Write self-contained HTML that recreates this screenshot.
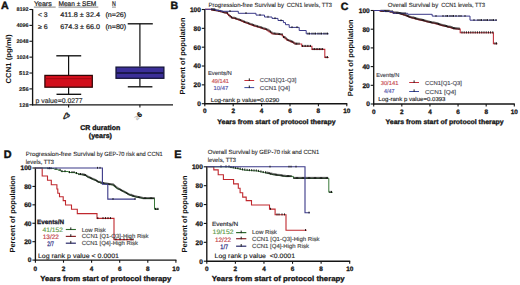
<!DOCTYPE html><html><head><meta charset="utf-8"><title>Figure</title><style>html,body{margin:0;padding:0;background:#fff;width:520px;height:285px;overflow:hidden}svg{display:block;font-family:"Liberation Sans",sans-serif;text-rendering:geometricPrecision}</style></head><body><svg width="520" height="285" viewBox="0 0 520 285" font-family="Liberation Sans, sans-serif" shape-rendering="geometricPrecision">
<rect width="520" height="285" fill="#fff"/>
<text x="1.00" y="9.20" font-size="10.6" font-weight="bold" fill="#111" stroke="#111" stroke-width="0.45">A</text>
<line x1="32.60" y1="9.10" x2="32.60" y2="105.40" stroke="#141414" stroke-width="1.35" />
<line x1="32.00" y1="104.80" x2="173.00" y2="104.80" stroke="#141414" stroke-width="1.35" />
<line x1="29.40" y1="9.50" x2="32.60" y2="9.50" stroke="#141414" stroke-width="1.1" />
<text x="28.70" y="11.25" font-size="5.3" font-weight="bold" fill="#1a1a1a" stroke="#1a1a1a" stroke-width="0.1" text-anchor="end" textLength="12.30" lengthAdjust="spacingAndGlyphs">8192</text>
<line x1="29.40" y1="25.38" x2="32.60" y2="25.38" stroke="#141414" stroke-width="1.1" />
<text x="28.70" y="27.13" font-size="5.3" font-weight="bold" fill="#1a1a1a" stroke="#1a1a1a" stroke-width="0.1" text-anchor="end" textLength="12.30" lengthAdjust="spacingAndGlyphs">4096</text>
<line x1="29.40" y1="41.26" x2="32.60" y2="41.26" stroke="#141414" stroke-width="1.1" />
<text x="28.70" y="43.01" font-size="5.3" font-weight="bold" fill="#1a1a1a" stroke="#1a1a1a" stroke-width="0.1" text-anchor="end" textLength="12.30" lengthAdjust="spacingAndGlyphs">2048</text>
<line x1="29.40" y1="57.14" x2="32.60" y2="57.14" stroke="#141414" stroke-width="1.1" />
<text x="28.70" y="58.89" font-size="5.3" font-weight="bold" fill="#1a1a1a" stroke="#1a1a1a" stroke-width="0.1" text-anchor="end" textLength="12.30" lengthAdjust="spacingAndGlyphs">1024</text>
<line x1="29.40" y1="73.02" x2="32.60" y2="73.02" stroke="#141414" stroke-width="1.1" />
<text x="28.70" y="74.77" font-size="5.3" font-weight="bold" fill="#1a1a1a" stroke="#1a1a1a" stroke-width="0.1" text-anchor="end" textLength="9.60" lengthAdjust="spacingAndGlyphs">512</text>
<line x1="29.40" y1="88.90" x2="32.60" y2="88.90" stroke="#141414" stroke-width="1.1" />
<text x="28.70" y="90.65" font-size="5.3" font-weight="bold" fill="#1a1a1a" stroke="#1a1a1a" stroke-width="0.1" text-anchor="end" textLength="9.60" lengthAdjust="spacingAndGlyphs">256</text>
<line x1="29.40" y1="104.78" x2="32.60" y2="104.78" stroke="#141414" stroke-width="1.1" />
<text x="28.70" y="106.53" font-size="5.3" font-weight="bold" fill="#1a1a1a" stroke="#1a1a1a" stroke-width="0.1" text-anchor="end" textLength="9.60" lengthAdjust="spacingAndGlyphs">128</text>
<line x1="68.60" y1="104.80" x2="68.60" y2="107.60" stroke="#141414" stroke-width="1.1" />
<line x1="139.90" y1="104.80" x2="139.90" y2="107.60" stroke="#141414" stroke-width="1.1" />
<line x1="68.60" y1="55.80" x2="68.60" y2="74.90" stroke="#111" stroke-width="1.2" />
<line x1="68.60" y1="87.60" x2="68.60" y2="94.30" stroke="#111" stroke-width="1.2" />
<line x1="56.30" y1="55.80" x2="81.20" y2="55.80" stroke="#111" stroke-width="1.35" />
<line x1="56.50" y1="94.30" x2="81.20" y2="94.30" stroke="#111" stroke-width="1.35" />
<rect x="44.9" y="75.4" width="47.4" height="11.8" fill="#d20f1c" stroke="#300505" stroke-width="1.25"/>
<line x1="45.40" y1="78.70" x2="91.80" y2="78.70" stroke="#a00812" stroke-width="1.0" />
<line x1="139.90" y1="23.80" x2="139.90" y2="66.60" stroke="#111" stroke-width="1.2" />
<line x1="139.90" y1="78.70" x2="139.90" y2="86.80" stroke="#111" stroke-width="1.2" />
<line x1="127.70" y1="23.80" x2="152.80" y2="23.80" stroke="#111" stroke-width="1.35" />
<line x1="127.80" y1="86.80" x2="152.40" y2="86.80" stroke="#111" stroke-width="1.35" />
<rect x="116.0" y="67.1" width="47.9" height="11.2" fill="#3b2f98" stroke="#121236" stroke-width="1.25"/>
<line x1="116.50" y1="73.00" x2="163.40" y2="73.00" stroke="#121236" stroke-width="1.4" />
<text x="33.90" y="6.30" font-size="6.8" fill="#262626" stroke="#262626" stroke-width="0.22" textLength="17.80" lengthAdjust="spacingAndGlyphs">Years</text>
<line x1="33.90" y1="7.10" x2="55.70" y2="7.10" stroke="#222" stroke-width="0.55" />
<text x="58.50" y="6.30" font-size="6.8" fill="#262626" stroke="#262626" stroke-width="0.22" textLength="37.80" lengthAdjust="spacingAndGlyphs">Mean ± SEM</text>
<line x1="58.50" y1="7.10" x2="98.30" y2="7.10" stroke="#222" stroke-width="0.55" />
<text x="112.00" y="6.30" font-size="6.8" fill="#262626" stroke="#262626" stroke-width="0.22" textLength="3.80" lengthAdjust="spacingAndGlyphs">N</text>
<line x1="112.00" y1="7.10" x2="115.90" y2="7.10" stroke="#222" stroke-width="0.55" />
<text x="37.90" y="16.80" font-size="6.8" fill="#262626" stroke="#262626" stroke-width="0.22" textLength="9.70" lengthAdjust="spacingAndGlyphs">&lt; 3</text>
<text x="60.20" y="16.80" font-size="6.8" fill="#262626" stroke="#262626" stroke-width="0.22" textLength="39.80" lengthAdjust="spacingAndGlyphs">411.8 ± 32.4</text>
<text x="105.40" y="16.80" font-size="6.8" fill="#262626" stroke="#262626" stroke-width="0.22" textLength="20.80" lengthAdjust="spacingAndGlyphs">(n=26)</text>
<text x="37.90" y="28.60" font-size="6.8" fill="#262626" stroke="#262626" stroke-width="0.22" textLength="9.70" lengthAdjust="spacingAndGlyphs">≥ 6</text>
<text x="60.20" y="28.60" font-size="6.8" fill="#262626" stroke="#262626" stroke-width="0.22" textLength="39.80" lengthAdjust="spacingAndGlyphs">674.3 ± 66.0</text>
<text x="105.40" y="28.60" font-size="6.8" fill="#262626" stroke="#262626" stroke-width="0.22" textLength="20.80" lengthAdjust="spacingAndGlyphs">(n=80)</text>
<text x="35.50" y="102.60" font-size="6.8" fill="#262626" stroke="#262626" stroke-width="0.14" textLength="47.20" lengthAdjust="spacingAndGlyphs">p value=0.0277</text>
<text x="0" y="0" font-size="7.3" font-weight="bold" fill="#111" text-anchor="middle" textLength="49.0" lengthAdjust="spacingAndGlyphs" transform="translate(11.0,59.0) rotate(-90)">CCN1 (pg/ml)</text>
<text x="0" y="0" font-size="7.0" font-weight="bold" fill="#111" stroke="#111" stroke-width="0.3" text-anchor="end" transform="translate(70.6,115.2) rotate(-45)">&lt;3</text>
<text x="0" y="0" font-size="7.0" font-weight="bold" fill="#111" text-anchor="end" transform="translate(142.6,115.0) rotate(-45)"><tspan fill="#b8b8b8">≥</tspan><tspan stroke="#111" stroke-width="0.3">6</tspan></text>
<text x="100.25" y="129.70" font-size="6.95" font-weight="bold" fill="#111" stroke="#111" stroke-width="0.3" text-anchor="middle" textLength="39.90" lengthAdjust="spacingAndGlyphs">CR duration</text>
<text x="100.40" y="137.70" font-size="6.95" font-weight="bold" fill="#111" stroke="#111" stroke-width="0.3" text-anchor="middle" textLength="23.10" lengthAdjust="spacingAndGlyphs">(years)</text>
<text x="170.40" y="8.80" font-size="10.6" font-weight="bold" fill="#111" stroke="#111" stroke-width="0.45">B</text>
<text x="208.50" y="6.60" font-size="6.0" fill="#2a2a2a" stroke="#2a2a2a" stroke-width="0.12" textLength="75.40" lengthAdjust="spacingAndGlyphs">Progression-free Survival by</text>
<text x="286.70" y="6.60" font-size="6.0" fill="#2a2a2a" stroke="#2a2a2a" stroke-width="0.12" textLength="45.40" lengthAdjust="spacingAndGlyphs">CCN1 levels, TT3</text>
<line x1="204.80" y1="9.00" x2="204.80" y2="104.30" stroke="#141414" stroke-width="1.35" />
<line x1="204.20" y1="103.70" x2="347.30" y2="103.70" stroke="#141414" stroke-width="1.35" />
<line x1="201.80" y1="103.70" x2="204.80" y2="103.70" stroke="#141414" stroke-width="1.1" />
<text x="200.90" y="106.05" font-size="6.6" font-weight="bold" fill="#1a1a1a" stroke="#1a1a1a" stroke-width="0.3" text-anchor="end">0</text>
<line x1="201.80" y1="84.86" x2="204.80" y2="84.86" stroke="#141414" stroke-width="1.1" />
<text x="200.90" y="87.21" font-size="6.6" font-weight="bold" fill="#1a1a1a" stroke="#1a1a1a" stroke-width="0.3" text-anchor="end">20</text>
<line x1="201.80" y1="66.02" x2="204.80" y2="66.02" stroke="#141414" stroke-width="1.1" />
<text x="200.90" y="68.37" font-size="6.6" font-weight="bold" fill="#1a1a1a" stroke="#1a1a1a" stroke-width="0.3" text-anchor="end">40</text>
<line x1="201.80" y1="47.18" x2="204.80" y2="47.18" stroke="#141414" stroke-width="1.1" />
<text x="200.90" y="49.53" font-size="6.6" font-weight="bold" fill="#1a1a1a" stroke="#1a1a1a" stroke-width="0.3" text-anchor="end">60</text>
<line x1="201.80" y1="28.34" x2="204.80" y2="28.34" stroke="#141414" stroke-width="1.1" />
<text x="200.90" y="30.69" font-size="6.6" font-weight="bold" fill="#1a1a1a" stroke="#1a1a1a" stroke-width="0.3" text-anchor="end">80</text>
<line x1="201.80" y1="9.50" x2="204.80" y2="9.50" stroke="#141414" stroke-width="1.1" />
<text x="200.90" y="11.85" font-size="6.6" font-weight="bold" fill="#1a1a1a" stroke="#1a1a1a" stroke-width="0.3" text-anchor="end">100</text>
<line x1="204.80" y1="103.70" x2="204.80" y2="106.30" stroke="#141414" stroke-width="1.1" />
<text x="204.80" y="113.20" font-size="6.4" font-weight="bold" fill="#1a1a1a" stroke="#1a1a1a" stroke-width="0.3" text-anchor="middle">0</text>
<line x1="233.20" y1="103.70" x2="233.20" y2="106.30" stroke="#141414" stroke-width="1.1" />
<text x="233.20" y="113.20" font-size="6.4" font-weight="bold" fill="#1a1a1a" stroke="#1a1a1a" stroke-width="0.3" text-anchor="middle">2</text>
<line x1="261.60" y1="103.70" x2="261.60" y2="106.30" stroke="#141414" stroke-width="1.1" />
<text x="261.60" y="113.20" font-size="6.4" font-weight="bold" fill="#1a1a1a" stroke="#1a1a1a" stroke-width="0.3" text-anchor="middle">4</text>
<line x1="290.00" y1="103.70" x2="290.00" y2="106.30" stroke="#141414" stroke-width="1.1" />
<text x="290.00" y="113.20" font-size="6.4" font-weight="bold" fill="#1a1a1a" stroke="#1a1a1a" stroke-width="0.3" text-anchor="middle">6</text>
<line x1="318.40" y1="103.70" x2="318.40" y2="106.30" stroke="#141414" stroke-width="1.1" />
<text x="318.40" y="113.20" font-size="6.4" font-weight="bold" fill="#1a1a1a" stroke="#1a1a1a" stroke-width="0.3" text-anchor="middle">8</text>
<line x1="346.80" y1="103.70" x2="346.80" y2="106.30" stroke="#141414" stroke-width="1.1" />
<text x="346.80" y="113.20" font-size="6.4" font-weight="bold" fill="#1a1a1a" stroke="#1a1a1a" stroke-width="0.3" text-anchor="middle">10</text>
<text x="0" y="0" font-size="7.4" font-weight="bold" fill="#111" text-anchor="middle" textLength="77" lengthAdjust="spacingAndGlyphs" transform="translate(184.50,56.00) rotate(-90)">Percent of population</text>
<text x="217.30" y="123.60" font-size="6.7" font-weight="bold" fill="#111" stroke="#111" stroke-width="0.3" textLength="118.30" lengthAdjust="spacingAndGlyphs">Years from start of protocol therapy</text>
<polyline points="205.00,9.30 206.30,9.30 206.30,9.30 207.60,9.30 207.60,9.30 208.90,9.30 208.90,9.30 210.20,9.30 210.20,9.30 211.50,9.30 211.50,9.30 211.50,10.00 212.72,10.00 212.72,10.18 213.95,10.18 213.95,10.35 215.18,10.35 215.18,10.52 216.40,10.52 216.40,10.70 217.73,10.70 217.73,11.00 219.07,11.00 219.07,11.30 220.40,11.30 220.40,11.60 221.90,11.60 221.90,12.05 223.40,12.05 223.40,12.50 224.95,12.50 224.95,12.90 226.50,12.90 226.50,13.30 227.60,13.30 227.60,14.40 228.70,14.40 228.70,15.50 230.00,15.50 230.00,16.60 231.30,16.60 231.30,17.70 232.77,17.70 232.77,18.13 234.23,18.13 234.23,18.57 235.70,18.57 235.70,19.00 237.17,19.00 237.17,19.47 238.63,19.47 238.63,19.93 240.10,19.93 240.10,20.40 241.27,20.40 241.27,20.97 242.43,20.97 242.43,21.53 243.60,21.53 243.60,22.10 244.87,22.10 244.87,22.57 246.13,22.57 246.13,23.03 247.40,23.03 247.40,23.50 248.67,23.50 248.67,23.97 249.93,23.97 249.93,24.43 251.20,24.43 251.20,24.90 252.47,24.90 252.47,25.37 253.73,25.37 253.73,25.83 255.00,25.83 255.00,26.30 256.40,26.30 256.40,26.67 257.80,26.67 257.80,27.03 259.20,27.03 259.20,27.40 260.43,27.40 260.43,27.83 261.67,27.83 261.67,28.27 262.90,28.27 262.90,28.70 264.13,28.70 264.13,29.13 265.37,29.13 265.37,29.57 266.60,29.57 266.60,30.00 267.90,30.00 267.90,30.93 269.20,30.93 269.20,31.85 270.50,31.85 270.50,32.78 271.80,32.78 271.80,33.70 273.16,33.70 273.16,33.84 274.51,33.84 274.51,33.99 275.87,33.99 275.87,34.13 277.23,34.13 277.23,34.27 278.59,34.27 278.59,34.41 279.94,34.41 279.94,34.56 281.30,34.56 281.30,34.70 282.35,34.70 282.35,36.05 283.40,36.05 283.40,37.40 285.00,37.40 285.00,38.70 286.60,38.70 286.60,40.00 287.90,40.00 287.90,40.52 289.20,40.52 289.20,41.05 290.50,41.05 290.50,41.58 291.80,41.58 291.80,42.10 293.40,42.10 293.40,43.05 295.00,43.05 295.00,44.00 301.70,44.00 301.70,46.30 311.90,46.30 311.90,49.40 324.80,49.40 324.80,57.50 328.70,57.50" fill="none" stroke="#c2303a" stroke-width="1.1" stroke-linejoin="miter" />
<line x1="212.00" y1="8.60" x2="212.00" y2="10.70" stroke="#111" stroke-width="0.9" />
<line x1="213.30" y1="8.78" x2="213.30" y2="10.88" stroke="#111" stroke-width="0.9" />
<line x1="214.60" y1="8.95" x2="214.60" y2="11.05" stroke="#111" stroke-width="0.9" />
<line x1="215.90" y1="9.12" x2="215.90" y2="11.22" stroke="#111" stroke-width="0.9" />
<line x1="217.20" y1="9.30" x2="217.20" y2="11.40" stroke="#111" stroke-width="0.9" />
<line x1="218.50" y1="9.60" x2="218.50" y2="11.70" stroke="#111" stroke-width="0.9" />
<line x1="219.80" y1="9.90" x2="219.80" y2="12.00" stroke="#111" stroke-width="0.9" />
<line x1="221.10" y1="10.20" x2="221.10" y2="12.30" stroke="#111" stroke-width="0.9" />
<line x1="222.40" y1="10.65" x2="222.40" y2="12.75" stroke="#111" stroke-width="0.9" />
<line x1="223.70" y1="11.10" x2="223.70" y2="13.20" stroke="#111" stroke-width="0.9" />
<line x1="225.00" y1="11.50" x2="225.00" y2="13.60" stroke="#111" stroke-width="0.9" />
<line x1="226.30" y1="11.50" x2="226.30" y2="13.60" stroke="#111" stroke-width="0.9" />
<line x1="227.60" y1="11.90" x2="227.60" y2="14.00" stroke="#111" stroke-width="0.9" />
<line x1="228.90" y1="14.10" x2="228.90" y2="16.20" stroke="#111" stroke-width="0.9" />
<line x1="230.20" y1="15.20" x2="230.20" y2="17.30" stroke="#111" stroke-width="0.9" />
<line x1="231.50" y1="16.30" x2="231.50" y2="18.40" stroke="#111" stroke-width="0.9" />
<line x1="232.80" y1="16.73" x2="232.80" y2="18.83" stroke="#111" stroke-width="0.9" />
<line x1="234.10" y1="16.73" x2="234.10" y2="18.83" stroke="#111" stroke-width="0.9" />
<line x1="235.40" y1="17.17" x2="235.40" y2="19.27" stroke="#111" stroke-width="0.9" />
<line x1="236.70" y1="17.60" x2="236.70" y2="19.70" stroke="#111" stroke-width="0.9" />
<line x1="238.00" y1="18.07" x2="238.00" y2="20.17" stroke="#111" stroke-width="0.9" />
<line x1="239.30" y1="18.53" x2="239.30" y2="20.63" stroke="#111" stroke-width="0.9" />
<line x1="240.60" y1="19.00" x2="240.60" y2="21.10" stroke="#111" stroke-width="0.9" />
<line x1="241.90" y1="19.57" x2="241.90" y2="21.67" stroke="#111" stroke-width="0.9" />
<line x1="243.20" y1="20.13" x2="243.20" y2="22.23" stroke="#111" stroke-width="0.9" />
<line x1="244.50" y1="20.70" x2="244.50" y2="22.80" stroke="#111" stroke-width="0.9" />
<line x1="245.80" y1="21.17" x2="245.80" y2="23.27" stroke="#111" stroke-width="0.9" />
<line x1="247.10" y1="21.63" x2="247.10" y2="23.73" stroke="#111" stroke-width="0.9" />
<line x1="248.40" y1="22.10" x2="248.40" y2="24.20" stroke="#111" stroke-width="0.9" />
<line x1="249.70" y1="22.57" x2="249.70" y2="24.67" stroke="#111" stroke-width="0.9" />
<line x1="251.00" y1="23.03" x2="251.00" y2="25.13" stroke="#111" stroke-width="0.9" />
<line x1="252.30" y1="23.50" x2="252.30" y2="25.60" stroke="#111" stroke-width="0.9" />
<line x1="253.60" y1="23.97" x2="253.60" y2="26.07" stroke="#111" stroke-width="0.9" />
<line x1="254.90" y1="24.43" x2="254.90" y2="26.53" stroke="#111" stroke-width="0.9" />
<line x1="256.20" y1="24.90" x2="256.20" y2="27.00" stroke="#111" stroke-width="0.9" />
<line x1="257.50" y1="25.27" x2="257.50" y2="27.37" stroke="#111" stroke-width="0.9" />
<line x1="258.80" y1="25.63" x2="258.80" y2="27.73" stroke="#111" stroke-width="0.9" />
<line x1="260.10" y1="26.00" x2="260.10" y2="28.10" stroke="#111" stroke-width="0.9" />
<line x1="261.40" y1="26.43" x2="261.40" y2="28.53" stroke="#111" stroke-width="0.9" />
<line x1="262.70" y1="26.87" x2="262.70" y2="28.97" stroke="#111" stroke-width="0.9" />
<line x1="264.00" y1="27.30" x2="264.00" y2="29.40" stroke="#111" stroke-width="0.9" />
<line x1="265.30" y1="27.73" x2="265.30" y2="29.83" stroke="#111" stroke-width="0.9" />
<line x1="266.60" y1="28.17" x2="266.60" y2="30.27" stroke="#111" stroke-width="0.9" />
<line x1="267.90" y1="28.60" x2="267.90" y2="30.70" stroke="#111" stroke-width="0.9" />
<line x1="269.20" y1="29.53" x2="269.20" y2="31.62" stroke="#111" stroke-width="0.9" />
<line x1="270.50" y1="30.45" x2="270.50" y2="32.55" stroke="#111" stroke-width="0.9" />
<line x1="271.80" y1="31.38" x2="271.80" y2="33.48" stroke="#111" stroke-width="0.9" />
<line x1="273.10" y1="32.30" x2="273.10" y2="34.40" stroke="#111" stroke-width="0.9" />
<line x1="274.40" y1="32.44" x2="274.40" y2="34.54" stroke="#111" stroke-width="0.9" />
<line x1="275.70" y1="32.59" x2="275.70" y2="34.69" stroke="#111" stroke-width="0.9" />
<line x1="277.00" y1="32.73" x2="277.00" y2="34.83" stroke="#111" stroke-width="0.9" />
<line x1="278.30" y1="32.87" x2="278.30" y2="34.97" stroke="#111" stroke-width="0.9" />
<line x1="279.60" y1="33.01" x2="279.60" y2="35.11" stroke="#111" stroke-width="0.9" />
<line x1="280.90" y1="33.16" x2="280.90" y2="35.26" stroke="#111" stroke-width="0.9" />
<line x1="282.20" y1="33.30" x2="282.20" y2="35.40" stroke="#111" stroke-width="0.9" />
<line x1="283.50" y1="36.00" x2="283.50" y2="38.10" stroke="#111" stroke-width="0.9" />
<line x1="284.80" y1="36.00" x2="284.80" y2="38.10" stroke="#111" stroke-width="0.9" />
<line x1="286.10" y1="37.30" x2="286.10" y2="39.40" stroke="#111" stroke-width="0.9" />
<line x1="287.40" y1="38.60" x2="287.40" y2="40.70" stroke="#111" stroke-width="0.9" />
<line x1="288.70" y1="39.12" x2="288.70" y2="41.23" stroke="#111" stroke-width="0.9" />
<line x1="290.00" y1="39.65" x2="290.00" y2="41.75" stroke="#111" stroke-width="0.9" />
<line x1="291.30" y1="40.18" x2="291.30" y2="42.28" stroke="#111" stroke-width="0.9" />
<line x1="292.60" y1="40.70" x2="292.60" y2="42.80" stroke="#111" stroke-width="0.9" />
<line x1="293.90" y1="41.65" x2="293.90" y2="43.75" stroke="#111" stroke-width="0.9" />
<line x1="295.20" y1="42.60" x2="295.20" y2="44.70" stroke="#111" stroke-width="0.9" />
<line x1="296.50" y1="42.60" x2="296.50" y2="44.70" stroke="#111" stroke-width="0.9" />
<line x1="297.80" y1="42.60" x2="297.80" y2="44.70" stroke="#111" stroke-width="0.9" />
<line x1="299.10" y1="42.60" x2="299.10" y2="44.70" stroke="#111" stroke-width="0.9" />
<line x1="302.50" y1="44.90" x2="302.50" y2="47.00" stroke="#111" stroke-width="0.9" />
<line x1="304.10" y1="44.90" x2="304.10" y2="47.00" stroke="#111" stroke-width="0.9" />
<line x1="305.70" y1="44.90" x2="305.70" y2="47.00" stroke="#111" stroke-width="0.9" />
<line x1="307.30" y1="44.90" x2="307.30" y2="47.00" stroke="#111" stroke-width="0.9" />
<line x1="308.90" y1="44.90" x2="308.90" y2="47.00" stroke="#111" stroke-width="0.9" />
<line x1="310.50" y1="44.90" x2="310.50" y2="47.00" stroke="#111" stroke-width="0.9" />
<line x1="313.00" y1="48.00" x2="313.00" y2="50.10" stroke="#111" stroke-width="0.9" />
<line x1="314.60" y1="48.00" x2="314.60" y2="50.10" stroke="#111" stroke-width="0.9" />
<line x1="316.20" y1="48.00" x2="316.20" y2="50.10" stroke="#111" stroke-width="0.9" />
<line x1="317.80" y1="48.00" x2="317.80" y2="50.10" stroke="#111" stroke-width="0.9" />
<line x1="319.40" y1="48.00" x2="319.40" y2="50.10" stroke="#111" stroke-width="0.9" />
<line x1="321.00" y1="48.00" x2="321.00" y2="50.10" stroke="#111" stroke-width="0.9" />
<line x1="322.60" y1="48.00" x2="322.60" y2="50.10" stroke="#111" stroke-width="0.9" />
<line x1="326.00" y1="56.10" x2="326.00" y2="58.20" stroke="#111" stroke-width="0.9" />
<line x1="327.50" y1="56.10" x2="327.50" y2="58.20" stroke="#111" stroke-width="0.9" />
<polyline points="205.00,9.30 216.00,9.30 216.00,10.50 221.00,10.50 221.00,11.30 238.30,11.30 238.30,13.30 256.00,13.30 256.00,15.10 264.50,15.10 264.50,17.00 272.00,17.00 272.00,18.40 278.00,18.40 278.00,20.50 283.40,20.50 283.40,22.60 285.50,22.60 285.50,24.70 289.20,24.70 289.20,27.40 299.20,27.40 299.20,30.50 306.20,30.50 306.20,33.80 328.70,33.80" fill="none" stroke="#3a3888" stroke-width="1.0" stroke-linejoin="miter" />
<line x1="212.00" y1="8.10" x2="212.00" y2="10.00" stroke="#111" stroke-width="0.9" />
<line x1="214.00" y1="8.10" x2="214.00" y2="10.00" stroke="#111" stroke-width="0.9" />
<line x1="230.00" y1="10.10" x2="230.00" y2="12.00" stroke="#111" stroke-width="0.9" />
<line x1="246.00" y1="12.10" x2="246.00" y2="14.00" stroke="#111" stroke-width="0.9" />
<line x1="260.00" y1="13.90" x2="260.00" y2="15.80" stroke="#111" stroke-width="0.9" />
<line x1="268.00" y1="15.80" x2="268.00" y2="17.70" stroke="#111" stroke-width="0.9" />
<line x1="275.00" y1="17.20" x2="275.00" y2="19.10" stroke="#111" stroke-width="0.9" />
<line x1="281.00" y1="19.30" x2="281.00" y2="21.20" stroke="#111" stroke-width="0.9" />
<line x1="292.00" y1="26.20" x2="292.00" y2="28.10" stroke="#111" stroke-width="0.9" />
<line x1="297.00" y1="26.20" x2="297.00" y2="28.10" stroke="#111" stroke-width="0.9" />
<line x1="308.00" y1="32.60" x2="308.00" y2="34.50" stroke="#111" stroke-width="0.9" />
<line x1="309.50" y1="32.60" x2="309.50" y2="34.50" stroke="#111" stroke-width="0.9" />
<line x1="312.00" y1="32.60" x2="312.00" y2="34.50" stroke="#111" stroke-width="0.9" />
<line x1="314.00" y1="32.60" x2="314.00" y2="34.50" stroke="#111" stroke-width="0.9" />
<line x1="315.50" y1="32.60" x2="315.50" y2="34.50" stroke="#111" stroke-width="0.9" />
<line x1="318.00" y1="32.60" x2="318.00" y2="34.50" stroke="#111" stroke-width="0.9" />
<line x1="320.00" y1="32.60" x2="320.00" y2="34.50" stroke="#111" stroke-width="0.9" />
<line x1="321.50" y1="32.60" x2="321.50" y2="34.50" stroke="#111" stroke-width="0.9" />
<line x1="324.00" y1="32.60" x2="324.00" y2="34.50" stroke="#111" stroke-width="0.9" />
<line x1="326.00" y1="32.60" x2="326.00" y2="34.50" stroke="#111" stroke-width="0.9" />
<line x1="327.50" y1="32.60" x2="327.50" y2="34.50" stroke="#111" stroke-width="0.9" />
<text x="207.90" y="74.70" font-size="5.8" fill="#3a3a48" stroke="#3a3a48" stroke-width="0.14" textLength="23.90" lengthAdjust="spacingAndGlyphs">Events/N</text>
<text x="211.70" y="82.60" font-size="5.8" fill="#c84a50" stroke="#c84a50" stroke-width="0.14" textLength="17.30" lengthAdjust="spacingAndGlyphs">49/141</text>
<text x="213.50" y="89.60" font-size="5.8" fill="#5050a8" stroke="#5050a8" stroke-width="0.14" textLength="14.70" lengthAdjust="spacingAndGlyphs">10/47</text>
<line x1="244.40" y1="80.50" x2="254.20" y2="80.50" stroke="#c2303a" stroke-width="1.0" />
<line x1="249.30" y1="78.40" x2="249.30" y2="81.00" stroke="#222" stroke-width="1.0" />
<line x1="244.40" y1="87.60" x2="254.20" y2="87.60" stroke="#3a4aa0" stroke-width="1.0" />
<line x1="249.30" y1="85.50" x2="249.30" y2="88.10" stroke="#222" stroke-width="1.0" />
<text x="259.80" y="82.40" font-size="5.8" fill="#4a4a55" stroke="#4a4a55" stroke-width="0.14" textLength="36.60" lengthAdjust="spacingAndGlyphs">CCN1[Q1-Q3]</text>
<text x="259.80" y="89.80" font-size="5.8" fill="#4a4a55" stroke="#4a4a55" stroke-width="0.14" textLength="30.20" lengthAdjust="spacingAndGlyphs">CCN1 [Q4]</text>
<text x="210.70" y="101.50" font-size="5.8" fill="#222" stroke="#222" stroke-width="0.14" textLength="68.60" lengthAdjust="spacingAndGlyphs">Log-rank p value=0.0290</text>
<text x="340.80" y="9.60" font-size="10.6" font-weight="bold" fill="#111" stroke="#111" stroke-width="0.45">C</text>
<text x="387.80" y="6.70" font-size="6.0" fill="#2a2a2a" stroke="#2a2a2a" stroke-width="0.12" textLength="50.40" lengthAdjust="spacingAndGlyphs">Overall Survival by</text>
<text x="441.20" y="6.70" font-size="6.0" fill="#2a2a2a" stroke="#2a2a2a" stroke-width="0.12" textLength="43.80" lengthAdjust="spacingAndGlyphs">CCN1 levels, TT3</text>
<line x1="373.70" y1="10.00" x2="373.70" y2="104.60" stroke="#141414" stroke-width="1.35" />
<line x1="373.10" y1="104.00" x2="514.80" y2="104.00" stroke="#141414" stroke-width="1.35" />
<line x1="370.70" y1="104.00" x2="373.70" y2="104.00" stroke="#141414" stroke-width="1.1" />
<text x="369.80" y="106.35" font-size="6.6" font-weight="bold" fill="#1a1a1a" stroke="#1a1a1a" stroke-width="0.3" text-anchor="end">0</text>
<line x1="370.70" y1="85.30" x2="373.70" y2="85.30" stroke="#141414" stroke-width="1.1" />
<text x="369.80" y="87.65" font-size="6.6" font-weight="bold" fill="#1a1a1a" stroke="#1a1a1a" stroke-width="0.3" text-anchor="end">20</text>
<line x1="370.70" y1="66.60" x2="373.70" y2="66.60" stroke="#141414" stroke-width="1.1" />
<text x="369.80" y="68.95" font-size="6.6" font-weight="bold" fill="#1a1a1a" stroke="#1a1a1a" stroke-width="0.3" text-anchor="end">40</text>
<line x1="370.70" y1="47.90" x2="373.70" y2="47.90" stroke="#141414" stroke-width="1.1" />
<text x="369.80" y="50.25" font-size="6.6" font-weight="bold" fill="#1a1a1a" stroke="#1a1a1a" stroke-width="0.3" text-anchor="end">60</text>
<line x1="370.70" y1="29.20" x2="373.70" y2="29.20" stroke="#141414" stroke-width="1.1" />
<text x="369.80" y="31.55" font-size="6.6" font-weight="bold" fill="#1a1a1a" stroke="#1a1a1a" stroke-width="0.3" text-anchor="end">80</text>
<line x1="370.70" y1="10.50" x2="373.70" y2="10.50" stroke="#141414" stroke-width="1.1" />
<text x="369.80" y="12.85" font-size="6.6" font-weight="bold" fill="#1a1a1a" stroke="#1a1a1a" stroke-width="0.3" text-anchor="end">100</text>
<line x1="373.70" y1="104.00" x2="373.70" y2="106.60" stroke="#141414" stroke-width="1.1" />
<text x="373.70" y="113.50" font-size="6.4" font-weight="bold" fill="#1a1a1a" stroke="#1a1a1a" stroke-width="0.3" text-anchor="middle">0</text>
<line x1="401.82" y1="104.00" x2="401.82" y2="106.60" stroke="#141414" stroke-width="1.1" />
<text x="401.82" y="113.50" font-size="6.4" font-weight="bold" fill="#1a1a1a" stroke="#1a1a1a" stroke-width="0.3" text-anchor="middle">2</text>
<line x1="429.94" y1="104.00" x2="429.94" y2="106.60" stroke="#141414" stroke-width="1.1" />
<text x="429.94" y="113.50" font-size="6.4" font-weight="bold" fill="#1a1a1a" stroke="#1a1a1a" stroke-width="0.3" text-anchor="middle">4</text>
<line x1="458.06" y1="104.00" x2="458.06" y2="106.60" stroke="#141414" stroke-width="1.1" />
<text x="458.06" y="113.50" font-size="6.4" font-weight="bold" fill="#1a1a1a" stroke="#1a1a1a" stroke-width="0.3" text-anchor="middle">6</text>
<line x1="486.18" y1="104.00" x2="486.18" y2="106.60" stroke="#141414" stroke-width="1.1" />
<text x="486.18" y="113.50" font-size="6.4" font-weight="bold" fill="#1a1a1a" stroke="#1a1a1a" stroke-width="0.3" text-anchor="middle">8</text>
<line x1="514.30" y1="104.00" x2="514.30" y2="106.60" stroke="#141414" stroke-width="1.1" />
<text x="514.30" y="113.50" font-size="6.4" font-weight="bold" fill="#1a1a1a" stroke="#1a1a1a" stroke-width="0.3" text-anchor="middle">10</text>
<text x="0" y="0" font-size="7.4" font-weight="bold" fill="#111" text-anchor="middle" textLength="77" lengthAdjust="spacingAndGlyphs" transform="translate(353.40,57.85) rotate(-90)">Percent of population</text>
<text x="385.60" y="124.00" font-size="6.7" font-weight="bold" fill="#111" stroke="#111" stroke-width="0.3" textLength="118.10" lengthAdjust="spacingAndGlyphs">Years from start of protocol therapy</text>
<polyline points="373.70,10.50 374.96,10.50 374.96,10.50 376.22,10.50 376.22,10.50 377.48,10.50 377.48,10.50 378.74,10.50 378.74,10.50 380.00,10.50 380.00,10.50 380.00,11.30 381.25,11.30 381.25,11.30 382.50,11.30 382.50,11.30 383.75,11.30 383.75,11.30 385.00,11.30 385.00,11.30 386.25,11.30 386.25,11.30 387.50,11.30 387.50,11.30 388.75,11.30 388.75,11.30 390.00,11.30 390.00,11.30 390.00,12.00 391.50,12.00 391.50,12.00 393.00,12.00 393.00,12.00 393.00,13.00 394.50,13.00 394.50,13.00 396.00,13.00 396.00,13.00 397.33,13.00 397.33,13.27 398.67,13.27 398.67,13.53 400.00,13.53 400.00,13.80 401.20,13.80 401.20,14.18 402.40,14.18 402.40,14.55 403.60,14.55 403.60,14.93 404.80,14.93 404.80,15.30 406.00,15.30 406.00,15.78 407.20,15.78 407.20,16.25 408.40,16.25 408.40,16.73 409.60,16.73 409.60,17.20 410.80,17.20 410.80,17.57 412.00,17.57 412.00,17.95 413.20,17.95 413.20,18.32 414.40,18.32 414.40,18.70 415.70,18.70 415.70,19.00 417.00,19.00 417.00,19.30 418.30,19.30 418.30,19.60 419.48,19.60 419.48,19.85 420.65,19.85 420.65,20.10 421.82,20.10 421.82,20.35 423.00,20.35 423.00,20.60 424.23,20.60 424.23,20.95 425.45,20.95 425.45,21.30 426.67,21.30 426.67,21.65 427.90,21.65 427.90,22.00 429.10,22.00 429.10,22.25 430.30,22.25 430.30,22.50 431.50,22.50 431.50,22.75 432.70,22.75 432.70,23.00 433.97,23.00 433.97,23.30 435.23,23.30 435.23,23.60 436.50,23.60 436.50,23.90 437.70,23.90 437.70,24.27 438.90,24.27 438.90,24.65 440.10,24.65 440.10,25.02 441.30,25.02 441.30,25.40 442.52,25.40 442.52,25.67 443.75,25.67 443.75,25.95 444.98,25.95 444.98,26.23 446.20,26.23 446.20,26.50 447.47,26.50 447.47,26.83 448.73,26.83 448.73,27.17 450.00,27.17 450.00,27.50 451.15,27.50 451.15,28.00 452.30,28.00 452.30,28.50 453.52,28.50 453.52,28.62 454.74,28.62 454.74,28.74 455.96,28.74 455.96,28.86 457.18,28.86 457.18,28.98 458.40,28.98 458.40,29.10 460.20,29.10 460.20,29.50 460.20,32.80 493.40,32.80 493.40,43.80 497.50,43.80" fill="none" stroke="#c2303a" stroke-width="1.1" stroke-linejoin="miter" />
<line x1="381.00" y1="9.80" x2="381.00" y2="12.00" stroke="#111" stroke-width="0.95" />
<line x1="382.15" y1="9.80" x2="382.15" y2="12.00" stroke="#111" stroke-width="0.95" />
<line x1="383.30" y1="9.80" x2="383.30" y2="12.00" stroke="#111" stroke-width="0.95" />
<line x1="384.45" y1="9.80" x2="384.45" y2="12.00" stroke="#111" stroke-width="0.95" />
<line x1="385.60" y1="9.80" x2="385.60" y2="12.00" stroke="#111" stroke-width="0.95" />
<line x1="386.75" y1="9.80" x2="386.75" y2="12.00" stroke="#111" stroke-width="0.95" />
<line x1="387.90" y1="9.80" x2="387.90" y2="12.00" stroke="#111" stroke-width="0.95" />
<line x1="389.05" y1="9.80" x2="389.05" y2="12.00" stroke="#111" stroke-width="0.95" />
<line x1="390.20" y1="10.50" x2="390.20" y2="12.70" stroke="#111" stroke-width="0.95" />
<line x1="391.35" y1="10.50" x2="391.35" y2="12.70" stroke="#111" stroke-width="0.95" />
<line x1="392.50" y1="10.50" x2="392.50" y2="12.70" stroke="#111" stroke-width="0.95" />
<line x1="393.65" y1="11.50" x2="393.65" y2="13.70" stroke="#111" stroke-width="0.95" />
<line x1="394.80" y1="11.50" x2="394.80" y2="13.70" stroke="#111" stroke-width="0.95" />
<line x1="395.95" y1="11.50" x2="395.95" y2="13.70" stroke="#111" stroke-width="0.95" />
<line x1="397.10" y1="11.50" x2="397.10" y2="13.70" stroke="#111" stroke-width="0.95" />
<line x1="398.25" y1="11.77" x2="398.25" y2="13.97" stroke="#111" stroke-width="0.95" />
<line x1="399.40" y1="12.03" x2="399.40" y2="14.23" stroke="#111" stroke-width="0.95" />
<line x1="400.55" y1="12.30" x2="400.55" y2="14.50" stroke="#111" stroke-width="0.95" />
<line x1="401.70" y1="12.68" x2="401.70" y2="14.88" stroke="#111" stroke-width="0.95" />
<line x1="402.85" y1="13.05" x2="402.85" y2="15.25" stroke="#111" stroke-width="0.95" />
<line x1="404.00" y1="13.43" x2="404.00" y2="15.62" stroke="#111" stroke-width="0.95" />
<line x1="405.15" y1="13.80" x2="405.15" y2="16.00" stroke="#111" stroke-width="0.95" />
<line x1="406.30" y1="14.28" x2="406.30" y2="16.48" stroke="#111" stroke-width="0.95" />
<line x1="407.45" y1="14.75" x2="407.45" y2="16.95" stroke="#111" stroke-width="0.95" />
<line x1="408.60" y1="15.23" x2="408.60" y2="17.43" stroke="#111" stroke-width="0.95" />
<line x1="409.75" y1="15.70" x2="409.75" y2="17.90" stroke="#111" stroke-width="0.95" />
<line x1="410.90" y1="16.07" x2="410.90" y2="18.27" stroke="#111" stroke-width="0.95" />
<line x1="412.05" y1="16.45" x2="412.05" y2="18.65" stroke="#111" stroke-width="0.95" />
<line x1="413.20" y1="16.45" x2="413.20" y2="18.65" stroke="#111" stroke-width="0.95" />
<line x1="414.35" y1="16.82" x2="414.35" y2="19.02" stroke="#111" stroke-width="0.95" />
<line x1="415.50" y1="17.20" x2="415.50" y2="19.40" stroke="#111" stroke-width="0.95" />
<line x1="416.65" y1="17.50" x2="416.65" y2="19.70" stroke="#111" stroke-width="0.95" />
<line x1="417.80" y1="17.80" x2="417.80" y2="20.00" stroke="#111" stroke-width="0.95" />
<line x1="418.95" y1="18.10" x2="418.95" y2="20.30" stroke="#111" stroke-width="0.95" />
<line x1="420.10" y1="18.35" x2="420.10" y2="20.55" stroke="#111" stroke-width="0.95" />
<line x1="421.25" y1="18.60" x2="421.25" y2="20.80" stroke="#111" stroke-width="0.95" />
<line x1="422.40" y1="18.85" x2="422.40" y2="21.05" stroke="#111" stroke-width="0.95" />
<line x1="423.55" y1="19.10" x2="423.55" y2="21.30" stroke="#111" stroke-width="0.95" />
<line x1="424.70" y1="19.45" x2="424.70" y2="21.65" stroke="#111" stroke-width="0.95" />
<line x1="425.85" y1="19.80" x2="425.85" y2="22.00" stroke="#111" stroke-width="0.95" />
<line x1="427.00" y1="20.15" x2="427.00" y2="22.35" stroke="#111" stroke-width="0.95" />
<line x1="428.15" y1="20.50" x2="428.15" y2="22.70" stroke="#111" stroke-width="0.95" />
<line x1="429.30" y1="20.75" x2="429.30" y2="22.95" stroke="#111" stroke-width="0.95" />
<line x1="430.45" y1="21.00" x2="430.45" y2="23.20" stroke="#111" stroke-width="0.95" />
<line x1="431.60" y1="21.25" x2="431.60" y2="23.45" stroke="#111" stroke-width="0.95" />
<line x1="432.75" y1="21.50" x2="432.75" y2="23.70" stroke="#111" stroke-width="0.95" />
<line x1="433.90" y1="21.50" x2="433.90" y2="23.70" stroke="#111" stroke-width="0.95" />
<line x1="435.05" y1="21.80" x2="435.05" y2="24.00" stroke="#111" stroke-width="0.95" />
<line x1="436.20" y1="22.10" x2="436.20" y2="24.30" stroke="#111" stroke-width="0.95" />
<line x1="437.35" y1="22.40" x2="437.35" y2="24.60" stroke="#111" stroke-width="0.95" />
<line x1="438.50" y1="22.77" x2="438.50" y2="24.97" stroke="#111" stroke-width="0.95" />
<line x1="439.65" y1="23.15" x2="439.65" y2="25.35" stroke="#111" stroke-width="0.95" />
<line x1="440.80" y1="23.52" x2="440.80" y2="25.72" stroke="#111" stroke-width="0.95" />
<line x1="441.95" y1="23.90" x2="441.95" y2="26.10" stroke="#111" stroke-width="0.95" />
<line x1="443.10" y1="24.17" x2="443.10" y2="26.37" stroke="#111" stroke-width="0.95" />
<line x1="444.25" y1="24.45" x2="444.25" y2="26.65" stroke="#111" stroke-width="0.95" />
<line x1="445.40" y1="24.73" x2="445.40" y2="26.93" stroke="#111" stroke-width="0.95" />
<line x1="446.55" y1="25.00" x2="446.55" y2="27.20" stroke="#111" stroke-width="0.95" />
<line x1="447.70" y1="25.33" x2="447.70" y2="27.53" stroke="#111" stroke-width="0.95" />
<line x1="448.85" y1="25.67" x2="448.85" y2="27.87" stroke="#111" stroke-width="0.95" />
<line x1="450.00" y1="25.67" x2="450.00" y2="27.87" stroke="#111" stroke-width="0.95" />
<line x1="451.15" y1="26.00" x2="451.15" y2="28.20" stroke="#111" stroke-width="0.95" />
<line x1="452.30" y1="26.50" x2="452.30" y2="28.70" stroke="#111" stroke-width="0.95" />
<line x1="453.45" y1="27.00" x2="453.45" y2="29.20" stroke="#111" stroke-width="0.95" />
<line x1="454.60" y1="27.12" x2="454.60" y2="29.32" stroke="#111" stroke-width="0.95" />
<line x1="455.75" y1="27.24" x2="455.75" y2="29.44" stroke="#111" stroke-width="0.95" />
<line x1="456.90" y1="27.36" x2="456.90" y2="29.56" stroke="#111" stroke-width="0.95" />
<line x1="458.05" y1="27.48" x2="458.05" y2="29.68" stroke="#111" stroke-width="0.95" />
<line x1="459.20" y1="27.60" x2="459.20" y2="29.80" stroke="#111" stroke-width="0.95" />
<line x1="462.00" y1="31.30" x2="462.00" y2="33.50" stroke="#111" stroke-width="0.95" />
<line x1="464.20" y1="31.30" x2="464.20" y2="33.50" stroke="#111" stroke-width="0.95" />
<line x1="466.40" y1="31.30" x2="466.40" y2="33.50" stroke="#111" stroke-width="0.95" />
<line x1="468.60" y1="31.30" x2="468.60" y2="33.50" stroke="#111" stroke-width="0.95" />
<line x1="470.80" y1="31.30" x2="470.80" y2="33.50" stroke="#111" stroke-width="0.95" />
<line x1="473.00" y1="31.30" x2="473.00" y2="33.50" stroke="#111" stroke-width="0.95" />
<line x1="475.20" y1="31.30" x2="475.20" y2="33.50" stroke="#111" stroke-width="0.95" />
<line x1="477.40" y1="31.30" x2="477.40" y2="33.50" stroke="#111" stroke-width="0.95" />
<line x1="479.60" y1="31.30" x2="479.60" y2="33.50" stroke="#111" stroke-width="0.95" />
<line x1="481.80" y1="31.30" x2="481.80" y2="33.50" stroke="#111" stroke-width="0.95" />
<line x1="484.00" y1="31.30" x2="484.00" y2="33.50" stroke="#111" stroke-width="0.95" />
<line x1="486.20" y1="31.30" x2="486.20" y2="33.50" stroke="#111" stroke-width="0.95" />
<line x1="488.40" y1="31.30" x2="488.40" y2="33.50" stroke="#111" stroke-width="0.95" />
<line x1="490.60" y1="31.30" x2="490.60" y2="33.50" stroke="#111" stroke-width="0.95" />
<line x1="492.80" y1="31.30" x2="492.80" y2="33.50" stroke="#111" stroke-width="0.95" />
<line x1="495.00" y1="42.30" x2="495.00" y2="44.50" stroke="#111" stroke-width="0.95" />
<line x1="496.50" y1="42.30" x2="496.50" y2="44.50" stroke="#111" stroke-width="0.95" />
<polyline points="373.70,10.50 384.00,10.50 384.00,11.50 393.00,11.50 393.00,13.30 407.70,13.30 407.70,14.30 432.20,14.30 432.20,16.10 470.00,16.10 470.00,20.20 497.00,20.20" fill="none" stroke="#3a3888" stroke-width="1.0" stroke-linejoin="miter" />
<line x1="386.00" y1="10.40" x2="386.00" y2="12.20" stroke="#111" stroke-width="0.9" />
<line x1="388.00" y1="10.40" x2="388.00" y2="12.20" stroke="#111" stroke-width="0.9" />
<line x1="397.00" y1="12.20" x2="397.00" y2="14.00" stroke="#111" stroke-width="0.9" />
<line x1="399.00" y1="12.20" x2="399.00" y2="14.00" stroke="#111" stroke-width="0.9" />
<line x1="401.00" y1="12.20" x2="401.00" y2="14.00" stroke="#111" stroke-width="0.9" />
<line x1="403.00" y1="12.20" x2="403.00" y2="14.00" stroke="#111" stroke-width="0.9" />
<line x1="405.00" y1="12.20" x2="405.00" y2="14.00" stroke="#111" stroke-width="0.9" />
<line x1="436.00" y1="15.00" x2="436.00" y2="16.80" stroke="#111" stroke-width="0.9" />
<line x1="443.00" y1="15.00" x2="443.00" y2="16.80" stroke="#111" stroke-width="0.9" />
<line x1="446.00" y1="15.00" x2="446.00" y2="16.80" stroke="#111" stroke-width="0.9" />
<line x1="447.50" y1="15.00" x2="447.50" y2="16.80" stroke="#111" stroke-width="0.9" />
<line x1="450.00" y1="15.00" x2="450.00" y2="16.80" stroke="#111" stroke-width="0.9" />
<line x1="452.00" y1="15.00" x2="452.00" y2="16.80" stroke="#111" stroke-width="0.9" />
<line x1="453.50" y1="15.00" x2="453.50" y2="16.80" stroke="#111" stroke-width="0.9" />
<line x1="456.00" y1="15.00" x2="456.00" y2="16.80" stroke="#111" stroke-width="0.9" />
<line x1="459.00" y1="15.00" x2="459.00" y2="16.80" stroke="#111" stroke-width="0.9" />
<line x1="461.00" y1="15.00" x2="461.00" y2="16.80" stroke="#111" stroke-width="0.9" />
<line x1="465.00" y1="15.00" x2="465.00" y2="16.80" stroke="#111" stroke-width="0.9" />
<line x1="474.00" y1="19.10" x2="474.00" y2="20.90" stroke="#111" stroke-width="0.9" />
<line x1="478.00" y1="19.10" x2="478.00" y2="20.90" stroke="#111" stroke-width="0.9" />
<line x1="480.00" y1="19.10" x2="480.00" y2="20.90" stroke="#111" stroke-width="0.9" />
<line x1="481.50" y1="19.10" x2="481.50" y2="20.90" stroke="#111" stroke-width="0.9" />
<line x1="484.00" y1="19.10" x2="484.00" y2="20.90" stroke="#111" stroke-width="0.9" />
<line x1="486.00" y1="19.10" x2="486.00" y2="20.90" stroke="#111" stroke-width="0.9" />
<line x1="487.50" y1="19.10" x2="487.50" y2="20.90" stroke="#111" stroke-width="0.9" />
<line x1="490.00" y1="19.10" x2="490.00" y2="20.90" stroke="#111" stroke-width="0.9" />
<line x1="492.00" y1="19.10" x2="492.00" y2="20.90" stroke="#111" stroke-width="0.9" />
<line x1="493.50" y1="19.10" x2="493.50" y2="20.90" stroke="#111" stroke-width="0.9" />
<line x1="496.00" y1="19.10" x2="496.00" y2="20.90" stroke="#111" stroke-width="0.9" />
<text x="376.20" y="76.50" font-size="5.8" fill="#3a3a48" stroke="#3a3a48" stroke-width="0.14" textLength="23.10" lengthAdjust="spacingAndGlyphs">Events/N</text>
<text x="380.70" y="84.90" font-size="5.8" fill="#c84a50" stroke="#c84a50" stroke-width="0.14" textLength="17.70" lengthAdjust="spacingAndGlyphs">30/141</text>
<text x="383.90" y="93.30" font-size="5.8" fill="#5050a8" stroke="#5050a8" stroke-width="0.14" textLength="10.50" lengthAdjust="spacingAndGlyphs">4/47</text>
<line x1="409.20" y1="82.50" x2="419.00" y2="82.50" stroke="#c2303a" stroke-width="1.0" />
<line x1="414.10" y1="80.40" x2="414.10" y2="83.00" stroke="#222" stroke-width="1.0" />
<line x1="409.20" y1="91.50" x2="419.00" y2="91.50" stroke="#3a4aa0" stroke-width="1.0" />
<line x1="414.10" y1="89.40" x2="414.10" y2="92.00" stroke="#222" stroke-width="1.0" />
<text x="425.00" y="85.00" font-size="5.8" fill="#4a4a55" stroke="#4a4a55" stroke-width="0.14" textLength="36.90" lengthAdjust="spacingAndGlyphs">CCN1[Q1-Q3]</text>
<text x="425.00" y="93.70" font-size="5.8" fill="#4a4a55" stroke="#4a4a55" stroke-width="0.14" textLength="31.00" lengthAdjust="spacingAndGlyphs">CCN1 [Q4]</text>
<text x="378.30" y="100.60" font-size="5.8" fill="#222" stroke="#222" stroke-width="0.14" textLength="67.20" lengthAdjust="spacingAndGlyphs">Log-rank p value=0.0393</text>
<text x="3.80" y="158.20" font-size="10.8" font-weight="bold" fill="#111" stroke="#111" stroke-width="0.45">D</text>
<text x="25.80" y="155.80" font-size="6.0" fill="#2a2a2a" stroke="#2a2a2a" stroke-width="0.12" textLength="69.30" lengthAdjust="spacingAndGlyphs">Progression-free Survival</text>
<text x="96.80" y="155.80" font-size="6.0" fill="#2a2a2a" stroke="#2a2a2a" stroke-width="0.12" textLength="65.90" lengthAdjust="spacingAndGlyphs">by GEP-70 risk and CCN1</text>
<text x="25.80" y="163.80" font-size="6.0" fill="#2a2a2a" stroke="#2a2a2a" stroke-width="0.12" textLength="28.30" lengthAdjust="spacingAndGlyphs">levels, TT3</text>
<line x1="35.40" y1="167.50" x2="35.40" y2="260.70" stroke="#141414" stroke-width="1.35" />
<line x1="34.80" y1="260.10" x2="176.40" y2="260.10" stroke="#141414" stroke-width="1.35" />
<line x1="32.40" y1="260.10" x2="35.40" y2="260.10" stroke="#141414" stroke-width="1.1" />
<text x="31.50" y="262.45" font-size="6.6" font-weight="bold" fill="#1a1a1a" stroke="#1a1a1a" stroke-width="0.3" text-anchor="end">0</text>
<line x1="32.40" y1="241.68" x2="35.40" y2="241.68" stroke="#141414" stroke-width="1.1" />
<text x="31.50" y="244.03" font-size="6.6" font-weight="bold" fill="#1a1a1a" stroke="#1a1a1a" stroke-width="0.3" text-anchor="end">20</text>
<line x1="32.40" y1="223.26" x2="35.40" y2="223.26" stroke="#141414" stroke-width="1.1" />
<text x="31.50" y="225.61" font-size="6.6" font-weight="bold" fill="#1a1a1a" stroke="#1a1a1a" stroke-width="0.3" text-anchor="end">40</text>
<line x1="32.40" y1="204.84" x2="35.40" y2="204.84" stroke="#141414" stroke-width="1.1" />
<text x="31.50" y="207.19" font-size="6.6" font-weight="bold" fill="#1a1a1a" stroke="#1a1a1a" stroke-width="0.3" text-anchor="end">60</text>
<line x1="32.40" y1="186.42" x2="35.40" y2="186.42" stroke="#141414" stroke-width="1.1" />
<text x="31.50" y="188.77" font-size="6.6" font-weight="bold" fill="#1a1a1a" stroke="#1a1a1a" stroke-width="0.3" text-anchor="end">80</text>
<line x1="32.40" y1="168.00" x2="35.40" y2="168.00" stroke="#141414" stroke-width="1.1" />
<text x="31.50" y="170.35" font-size="6.6" font-weight="bold" fill="#1a1a1a" stroke="#1a1a1a" stroke-width="0.3" text-anchor="end">100</text>
<line x1="35.40" y1="260.10" x2="35.40" y2="262.70" stroke="#141414" stroke-width="1.1" />
<text x="35.40" y="270.60" font-size="6.4" font-weight="bold" fill="#1a1a1a" stroke="#1a1a1a" stroke-width="0.3" text-anchor="middle">0</text>
<line x1="63.50" y1="260.10" x2="63.50" y2="262.70" stroke="#141414" stroke-width="1.1" />
<text x="63.50" y="270.60" font-size="6.4" font-weight="bold" fill="#1a1a1a" stroke="#1a1a1a" stroke-width="0.3" text-anchor="middle">2</text>
<line x1="91.60" y1="260.10" x2="91.60" y2="262.70" stroke="#141414" stroke-width="1.1" />
<text x="91.60" y="270.60" font-size="6.4" font-weight="bold" fill="#1a1a1a" stroke="#1a1a1a" stroke-width="0.3" text-anchor="middle">4</text>
<line x1="119.70" y1="260.10" x2="119.70" y2="262.70" stroke="#141414" stroke-width="1.1" />
<text x="119.70" y="270.60" font-size="6.4" font-weight="bold" fill="#1a1a1a" stroke="#1a1a1a" stroke-width="0.3" text-anchor="middle">6</text>
<line x1="147.80" y1="260.10" x2="147.80" y2="262.70" stroke="#141414" stroke-width="1.1" />
<text x="147.80" y="270.60" font-size="6.4" font-weight="bold" fill="#1a1a1a" stroke="#1a1a1a" stroke-width="0.3" text-anchor="middle">8</text>
<line x1="175.90" y1="260.10" x2="175.90" y2="262.70" stroke="#141414" stroke-width="1.1" />
<text x="175.90" y="270.60" font-size="6.4" font-weight="bold" fill="#1a1a1a" stroke="#1a1a1a" stroke-width="0.3" text-anchor="middle">10</text>
<text x="0" y="0" font-size="7.4" font-weight="bold" fill="#111" text-anchor="middle" textLength="77" lengthAdjust="spacingAndGlyphs" transform="translate(15.30,214.05) rotate(-90)">Percent of population</text>
<text x="40.20" y="280.60" font-size="7.3" font-weight="bold" fill="#111" stroke="#111" stroke-width="0.3" textLength="131.10" lengthAdjust="spacingAndGlyphs">Years from start of protocol therapy</text>
<polyline points="35.40,168.00 42.20,168.00 42.20,176.00 47.50,176.00 47.50,180.30 51.30,180.30 51.30,184.80 56.90,184.80 56.90,189.00 57.80,189.00 57.80,193.20 59.50,193.20 59.50,196.80 63.20,196.80 63.20,200.60 65.50,200.60 65.50,205.00 71.50,205.00 71.50,209.30 77.30,209.30 77.30,213.60 97.00,213.60 97.00,218.40 114.00,218.40 114.00,239.60 133.50,239.60" fill="none" stroke="#c0282e" stroke-width="1.1" stroke-linejoin="miter" />
<line x1="97.80" y1="217.10" x2="97.80" y2="219.10" stroke="#111" stroke-width="0.9" />
<line x1="103.00" y1="217.10" x2="103.00" y2="219.10" stroke="#111" stroke-width="0.9" />
<line x1="105.50" y1="217.10" x2="105.50" y2="219.10" stroke="#111" stroke-width="0.9" />
<line x1="108.00" y1="217.10" x2="108.00" y2="219.10" stroke="#111" stroke-width="0.9" />
<line x1="110.50" y1="217.10" x2="110.50" y2="219.10" stroke="#111" stroke-width="0.9" />
<line x1="116.00" y1="238.30" x2="116.00" y2="240.30" stroke="#111" stroke-width="0.9" />
<line x1="120.00" y1="238.30" x2="120.00" y2="240.30" stroke="#111" stroke-width="0.9" />
<line x1="124.00" y1="238.30" x2="124.00" y2="240.30" stroke="#111" stroke-width="0.9" />
<line x1="127.00" y1="238.30" x2="127.00" y2="240.30" stroke="#111" stroke-width="0.9" />
<line x1="131.00" y1="238.30" x2="131.00" y2="240.30" stroke="#111" stroke-width="0.9" />
<line x1="133.00" y1="238.30" x2="133.00" y2="240.30" stroke="#111" stroke-width="0.9" />
<polyline points="35.40,168.00 47.50,168.00 47.50,168.50 54.20,168.50 54.20,169.20 58.10,169.20 58.10,170.20 61.00,170.20 61.00,171.50 68.70,171.50 68.70,172.50 75.40,172.50 75.40,173.40 78.30,173.40 78.30,174.40 81.25,174.40 81.25,174.60 82.50,174.60 82.50,174.87 83.75,174.87 83.75,175.13 85.00,175.13 85.00,175.40 86.25,175.40 86.25,176.25 87.50,176.25 87.50,177.10 88.75,177.10 88.75,177.63 90.00,177.63 90.00,178.17 91.25,178.17 91.25,178.70 92.50,178.70 92.50,179.23 93.75,179.23 93.75,179.77 95.00,179.77 95.00,180.30 96.25,180.30 96.25,180.98 97.50,180.98 97.50,181.65 98.75,181.65 98.75,182.32 100.00,182.32 100.00,183.00 101.30,183.00 101.30,183.22 102.60,183.22 102.60,183.43 103.90,183.43 103.90,183.65 105.20,183.65 105.20,183.87 106.50,183.87 106.50,184.08 107.80,184.08 107.80,184.30 109.30,184.30 109.30,184.50 110.80,184.50 110.80,184.70 112.30,184.70 112.30,184.90 113.45,184.90 113.45,185.85 114.60,185.85 114.60,186.80 115.75,186.80 115.75,187.75 116.90,187.75 116.90,188.70 118.35,188.70 118.35,189.35 119.80,189.35 119.80,190.00 121.25,190.00 121.25,190.65 122.70,190.65 122.70,191.30 123.85,191.30 123.85,191.95 125.00,191.95 125.00,192.60 126.15,192.60 126.15,193.25 127.30,193.25 127.30,193.90 128.60,193.90 128.60,194.57 129.90,194.57 129.90,195.23 131.20,195.23 131.20,195.90 132.50,195.90 132.50,196.22 133.80,196.22 133.80,196.55 135.10,196.55 135.10,196.88 136.40,196.88 136.40,197.20 137.70,197.20 137.70,197.40 139.00,197.40 139.00,197.60 140.30,197.60 140.30,197.80 141.60,197.80 141.60,198.15 142.90,198.15 142.90,198.50 154.50,198.50 154.50,209.30 158.40,209.30" fill="none" stroke="#3a7a3a" stroke-width="1.0" stroke-linejoin="miter" />
<line x1="48.00" y1="167.10" x2="48.00" y2="169.20" stroke="#111" stroke-width="0.95" />
<line x1="49.50" y1="167.10" x2="49.50" y2="169.20" stroke="#111" stroke-width="0.95" />
<line x1="51.00" y1="167.10" x2="51.00" y2="169.20" stroke="#111" stroke-width="0.95" />
<line x1="56.00" y1="167.80" x2="56.00" y2="169.90" stroke="#111" stroke-width="0.95" />
<line x1="60.00" y1="168.80" x2="60.00" y2="170.90" stroke="#111" stroke-width="0.95" />
<line x1="62.00" y1="170.10" x2="62.00" y2="172.20" stroke="#111" stroke-width="0.95" />
<line x1="65.00" y1="170.10" x2="65.00" y2="172.20" stroke="#111" stroke-width="0.95" />
<line x1="69.50" y1="171.10" x2="69.50" y2="173.20" stroke="#111" stroke-width="0.95" />
<line x1="72.00" y1="171.10" x2="72.00" y2="173.20" stroke="#111" stroke-width="0.95" />
<line x1="74.00" y1="171.10" x2="74.00" y2="173.20" stroke="#111" stroke-width="0.95" />
<line x1="76.50" y1="172.00" x2="76.50" y2="174.10" stroke="#111" stroke-width="0.95" />
<line x1="79.00" y1="173.00" x2="79.00" y2="175.10" stroke="#111" stroke-width="0.95" />
<line x1="80.50" y1="173.00" x2="80.50" y2="175.10" stroke="#111" stroke-width="0.95" />
<line x1="82.00" y1="173.20" x2="82.00" y2="175.30" stroke="#111" stroke-width="0.95" />
<line x1="83.20" y1="173.47" x2="83.20" y2="175.57" stroke="#111" stroke-width="0.95" />
<line x1="84.40" y1="173.73" x2="84.40" y2="175.83" stroke="#111" stroke-width="0.95" />
<line x1="85.60" y1="174.00" x2="85.60" y2="176.10" stroke="#111" stroke-width="0.95" />
<line x1="86.80" y1="174.85" x2="86.80" y2="176.95" stroke="#111" stroke-width="0.95" />
<line x1="88.00" y1="175.70" x2="88.00" y2="177.80" stroke="#111" stroke-width="0.95" />
<line x1="89.20" y1="176.23" x2="89.20" y2="178.33" stroke="#111" stroke-width="0.95" />
<line x1="90.40" y1="176.77" x2="90.40" y2="178.87" stroke="#111" stroke-width="0.95" />
<line x1="91.60" y1="177.30" x2="91.60" y2="179.40" stroke="#111" stroke-width="0.95" />
<line x1="92.80" y1="177.83" x2="92.80" y2="179.93" stroke="#111" stroke-width="0.95" />
<line x1="94.00" y1="178.37" x2="94.00" y2="180.47" stroke="#111" stroke-width="0.95" />
<line x1="95.20" y1="178.90" x2="95.20" y2="181.00" stroke="#111" stroke-width="0.95" />
<line x1="96.40" y1="179.58" x2="96.40" y2="181.68" stroke="#111" stroke-width="0.95" />
<line x1="97.60" y1="180.25" x2="97.60" y2="182.35" stroke="#111" stroke-width="0.95" />
<line x1="98.80" y1="180.92" x2="98.80" y2="183.02" stroke="#111" stroke-width="0.95" />
<line x1="100.00" y1="180.92" x2="100.00" y2="183.02" stroke="#111" stroke-width="0.95" />
<line x1="101.20" y1="181.60" x2="101.20" y2="183.70" stroke="#111" stroke-width="0.95" />
<line x1="102.40" y1="181.82" x2="102.40" y2="183.92" stroke="#111" stroke-width="0.95" />
<line x1="103.60" y1="182.03" x2="103.60" y2="184.13" stroke="#111" stroke-width="0.95" />
<line x1="104.80" y1="182.25" x2="104.80" y2="184.35" stroke="#111" stroke-width="0.95" />
<line x1="106.00" y1="182.47" x2="106.00" y2="184.57" stroke="#111" stroke-width="0.95" />
<line x1="107.20" y1="182.68" x2="107.20" y2="184.78" stroke="#111" stroke-width="0.95" />
<line x1="108.40" y1="182.90" x2="108.40" y2="185.00" stroke="#111" stroke-width="0.95" />
<line x1="109.60" y1="183.10" x2="109.60" y2="185.20" stroke="#111" stroke-width="0.95" />
<line x1="110.80" y1="183.10" x2="110.80" y2="185.20" stroke="#111" stroke-width="0.95" />
<line x1="112.00" y1="183.30" x2="112.00" y2="185.40" stroke="#111" stroke-width="0.95" />
<line x1="113.20" y1="183.50" x2="113.20" y2="185.60" stroke="#111" stroke-width="0.95" />
<line x1="114.40" y1="184.45" x2="114.40" y2="186.55" stroke="#111" stroke-width="0.95" />
<line x1="115.60" y1="185.40" x2="115.60" y2="187.50" stroke="#111" stroke-width="0.95" />
<line x1="116.80" y1="186.35" x2="116.80" y2="188.45" stroke="#111" stroke-width="0.95" />
<line x1="118.00" y1="187.30" x2="118.00" y2="189.40" stroke="#111" stroke-width="0.95" />
<line x1="119.20" y1="187.95" x2="119.20" y2="190.05" stroke="#111" stroke-width="0.95" />
<line x1="120.40" y1="188.60" x2="120.40" y2="190.70" stroke="#111" stroke-width="0.95" />
<line x1="121.60" y1="189.25" x2="121.60" y2="191.35" stroke="#111" stroke-width="0.95" />
<line x1="122.80" y1="189.90" x2="122.80" y2="192.00" stroke="#111" stroke-width="0.95" />
<line x1="124.00" y1="190.55" x2="124.00" y2="192.65" stroke="#111" stroke-width="0.95" />
<line x1="125.20" y1="191.20" x2="125.20" y2="193.30" stroke="#111" stroke-width="0.95" />
<line x1="126.40" y1="191.85" x2="126.40" y2="193.95" stroke="#111" stroke-width="0.95" />
<line x1="127.60" y1="192.50" x2="127.60" y2="194.60" stroke="#111" stroke-width="0.95" />
<line x1="128.80" y1="193.17" x2="128.80" y2="195.27" stroke="#111" stroke-width="0.95" />
<line x1="130.00" y1="193.83" x2="130.00" y2="195.93" stroke="#111" stroke-width="0.95" />
<line x1="131.20" y1="193.83" x2="131.20" y2="195.93" stroke="#111" stroke-width="0.95" />
<line x1="132.40" y1="194.50" x2="132.40" y2="196.60" stroke="#111" stroke-width="0.95" />
<line x1="133.60" y1="194.82" x2="133.60" y2="196.92" stroke="#111" stroke-width="0.95" />
<line x1="134.80" y1="195.15" x2="134.80" y2="197.25" stroke="#111" stroke-width="0.95" />
<line x1="136.00" y1="195.47" x2="136.00" y2="197.57" stroke="#111" stroke-width="0.95" />
<line x1="137.20" y1="195.80" x2="137.20" y2="197.90" stroke="#111" stroke-width="0.95" />
<line x1="138.40" y1="196.00" x2="138.40" y2="198.10" stroke="#111" stroke-width="0.95" />
<line x1="139.60" y1="196.20" x2="139.60" y2="198.30" stroke="#111" stroke-width="0.95" />
<line x1="140.80" y1="196.40" x2="140.80" y2="198.50" stroke="#111" stroke-width="0.95" />
<line x1="142.00" y1="196.75" x2="142.00" y2="198.85" stroke="#111" stroke-width="0.95" />
<line x1="143.20" y1="197.10" x2="143.20" y2="199.20" stroke="#111" stroke-width="0.95" />
<line x1="144.40" y1="197.10" x2="144.40" y2="199.20" stroke="#111" stroke-width="0.95" />
<line x1="145.60" y1="197.10" x2="145.60" y2="199.20" stroke="#111" stroke-width="0.95" />
<line x1="146.80" y1="197.10" x2="146.80" y2="199.20" stroke="#111" stroke-width="0.95" />
<line x1="148.00" y1="197.10" x2="148.00" y2="199.20" stroke="#111" stroke-width="0.95" />
<line x1="149.20" y1="197.10" x2="149.20" y2="199.20" stroke="#111" stroke-width="0.95" />
<line x1="150.40" y1="197.10" x2="150.40" y2="199.20" stroke="#111" stroke-width="0.95" />
<line x1="151.60" y1="197.10" x2="151.60" y2="199.20" stroke="#111" stroke-width="0.95" />
<line x1="152.80" y1="197.10" x2="152.80" y2="199.20" stroke="#111" stroke-width="0.95" />
<line x1="154.00" y1="197.10" x2="154.00" y2="199.20" stroke="#111" stroke-width="0.95" />
<line x1="155.50" y1="207.90" x2="155.50" y2="210.00" stroke="#111" stroke-width="0.95" />
<line x1="157.00" y1="207.90" x2="157.00" y2="210.00" stroke="#111" stroke-width="0.95" />
<line x1="158.00" y1="207.90" x2="158.00" y2="210.00" stroke="#111" stroke-width="0.95" />
<polyline points="35.40,168.00 102.40,168.00 102.40,184.30 107.80,184.30 107.80,199.10 135.60,199.10" fill="none" stroke="#3a3888" stroke-width="1.1" stroke-linejoin="miter" />
<line x1="97.50" y1="166.90" x2="97.50" y2="168.70" stroke="#111" stroke-width="0.9" />
<line x1="100.00" y1="166.90" x2="100.00" y2="168.70" stroke="#111" stroke-width="0.9" />
<line x1="113.00" y1="198.00" x2="113.00" y2="199.80" stroke="#111" stroke-width="0.9" />
<line x1="135.00" y1="198.00" x2="135.00" y2="199.80" stroke="#111" stroke-width="0.9" />
<text x="37.10" y="223.90" font-size="6.3" font-weight="bold" fill="#1a1a2a" stroke="#1a1a2a" stroke-width="0.3" textLength="27.00" lengthAdjust="spacingAndGlyphs">Events/N</text>
<text x="42.50" y="231.70" font-size="6.5" fill="#5e9a48" stroke="#5e9a48" stroke-width="0.14" textLength="20.50" lengthAdjust="spacingAndGlyphs">41/152</text>
<text x="42.70" y="239.00" font-size="6.5" fill="#c0393e" stroke="#c0393e" stroke-width="0.14" textLength="16.30" lengthAdjust="spacingAndGlyphs">13/22</text>
<text x="47.20" y="245.80" font-size="6.5" fill="#2a2a80" stroke="#2a2a80" stroke-width="0.25" textLength="6.80" lengthAdjust="spacingAndGlyphs">2/7</text>
<line x1="65.80" y1="229.50" x2="75.90" y2="229.50" stroke="#2e6a2e" stroke-width="1.1" />
<line x1="70.80" y1="227.40" x2="70.80" y2="230.00" stroke="#222" stroke-width="1.0" />
<line x1="65.80" y1="236.40" x2="75.90" y2="236.40" stroke="#8a2428" stroke-width="1.2" />
<line x1="70.80" y1="234.20" x2="70.80" y2="236.80" stroke="#222" stroke-width="1.0" />
<line x1="65.80" y1="243.20" x2="75.90" y2="243.20" stroke="#28286a" stroke-width="1.2" />
<line x1="70.80" y1="240.90" x2="70.80" y2="243.50" stroke="#222" stroke-width="1.0" />
<text x="81.80" y="231.50" font-size="5.9" fill="#444" stroke="#444" stroke-width="0.14" textLength="23.90" lengthAdjust="spacingAndGlyphs">Low Risk</text>
<text x="81.80" y="238.20" font-size="5.9" fill="#444" stroke="#444" stroke-width="0.14" textLength="66.70" lengthAdjust="spacingAndGlyphs">CCN1 [Q1-Q3]-High Risk</text>
<text x="81.80" y="244.50" font-size="5.9" fill="#444" stroke="#444" stroke-width="0.14" textLength="56.20" lengthAdjust="spacingAndGlyphs">CCN1 [Q4]-High Risk</text>
<text x="37.90" y="258.40" font-size="6.5" fill="#1a1a1a" stroke="#1a1a1a" stroke-width="0.14" textLength="81.10" lengthAdjust="spacingAndGlyphs">Log rank p value &lt; 0.0001</text>
<text x="174.20" y="157.60" font-size="10.8" font-weight="bold" fill="#111" stroke="#111" stroke-width="0.45">E</text>
<text x="207.70" y="154.30" font-size="6.0" fill="#2a2a2a" stroke="#2a2a2a" stroke-width="0.12" textLength="42.30" lengthAdjust="spacingAndGlyphs">Overall Survival</text>
<text x="251.50" y="154.30" font-size="6.0" fill="#2a2a2a" stroke="#2a2a2a" stroke-width="0.12" textLength="67.70" lengthAdjust="spacingAndGlyphs">by GEP-70 risk and CCN1</text>
<text x="207.70" y="161.80" font-size="6.0" fill="#2a2a2a" stroke="#2a2a2a" stroke-width="0.12" textLength="28.30" lengthAdjust="spacingAndGlyphs">levels, TT3</text>
<line x1="206.80" y1="166.30" x2="206.80" y2="261.80" stroke="#141414" stroke-width="1.35" />
<line x1="206.20" y1="261.20" x2="350.20" y2="261.20" stroke="#141414" stroke-width="1.35" />
<line x1="203.80" y1="261.20" x2="206.80" y2="261.20" stroke="#141414" stroke-width="1.1" />
<text x="202.90" y="263.55" font-size="6.6" font-weight="bold" fill="#1a1a1a" stroke="#1a1a1a" stroke-width="0.3" text-anchor="end">0</text>
<line x1="203.80" y1="242.32" x2="206.80" y2="242.32" stroke="#141414" stroke-width="1.1" />
<text x="202.90" y="244.67" font-size="6.6" font-weight="bold" fill="#1a1a1a" stroke="#1a1a1a" stroke-width="0.3" text-anchor="end">20</text>
<line x1="203.80" y1="223.44" x2="206.80" y2="223.44" stroke="#141414" stroke-width="1.1" />
<text x="202.90" y="225.79" font-size="6.6" font-weight="bold" fill="#1a1a1a" stroke="#1a1a1a" stroke-width="0.3" text-anchor="end">40</text>
<line x1="203.80" y1="204.56" x2="206.80" y2="204.56" stroke="#141414" stroke-width="1.1" />
<text x="202.90" y="206.91" font-size="6.6" font-weight="bold" fill="#1a1a1a" stroke="#1a1a1a" stroke-width="0.3" text-anchor="end">60</text>
<line x1="203.80" y1="185.68" x2="206.80" y2="185.68" stroke="#141414" stroke-width="1.1" />
<text x="202.90" y="188.03" font-size="6.6" font-weight="bold" fill="#1a1a1a" stroke="#1a1a1a" stroke-width="0.3" text-anchor="end">80</text>
<line x1="203.80" y1="166.80" x2="206.80" y2="166.80" stroke="#141414" stroke-width="1.1" />
<text x="202.90" y="169.15" font-size="6.6" font-weight="bold" fill="#1a1a1a" stroke="#1a1a1a" stroke-width="0.3" text-anchor="end">100</text>
<line x1="206.80" y1="261.20" x2="206.80" y2="263.80" stroke="#141414" stroke-width="1.1" />
<text x="206.80" y="271.10" font-size="6.4" font-weight="bold" fill="#1a1a1a" stroke="#1a1a1a" stroke-width="0.3" text-anchor="middle">0</text>
<line x1="235.38" y1="261.20" x2="235.38" y2="263.80" stroke="#141414" stroke-width="1.1" />
<text x="235.38" y="271.10" font-size="6.4" font-weight="bold" fill="#1a1a1a" stroke="#1a1a1a" stroke-width="0.3" text-anchor="middle">2</text>
<line x1="263.96" y1="261.20" x2="263.96" y2="263.80" stroke="#141414" stroke-width="1.1" />
<text x="263.96" y="271.10" font-size="6.4" font-weight="bold" fill="#1a1a1a" stroke="#1a1a1a" stroke-width="0.3" text-anchor="middle">4</text>
<line x1="292.54" y1="261.20" x2="292.54" y2="263.80" stroke="#141414" stroke-width="1.1" />
<text x="292.54" y="271.10" font-size="6.4" font-weight="bold" fill="#1a1a1a" stroke="#1a1a1a" stroke-width="0.3" text-anchor="middle">6</text>
<line x1="321.12" y1="261.20" x2="321.12" y2="263.80" stroke="#141414" stroke-width="1.1" />
<text x="321.12" y="271.10" font-size="6.4" font-weight="bold" fill="#1a1a1a" stroke="#1a1a1a" stroke-width="0.3" text-anchor="middle">8</text>
<line x1="349.70" y1="261.20" x2="349.70" y2="263.80" stroke="#141414" stroke-width="1.1" />
<text x="349.70" y="271.10" font-size="6.4" font-weight="bold" fill="#1a1a1a" stroke="#1a1a1a" stroke-width="0.3" text-anchor="middle">10</text>
<text x="0" y="0" font-size="7.4" font-weight="bold" fill="#111" text-anchor="middle" textLength="77" lengthAdjust="spacingAndGlyphs" transform="translate(186.70,214.00) rotate(-90)">Percent of population</text>
<text x="211.70" y="281.20" font-size="7.3" font-weight="bold" fill="#111" stroke="#111" stroke-width="0.3" textLength="133.00" lengthAdjust="spacingAndGlyphs">Years from start of protocol therapy</text>
<polyline points="206.80,166.80 213.80,166.80 213.80,169.90 218.20,169.90 218.20,174.80 223.40,174.80 223.40,179.50 233.60,179.50 233.60,183.90 238.30,183.90 238.30,188.30 240.10,188.30 240.10,192.70 242.70,192.70 242.70,197.10 246.20,197.10 246.20,200.60 251.50,200.60 251.50,205.00 269.50,205.00 269.50,209.10 275.10,209.10 275.10,214.70 286.00,214.70 286.00,230.30 306.70,230.30" fill="none" stroke="#c0282e" stroke-width="1.1" stroke-linejoin="miter" />
<line x1="270.50" y1="207.80" x2="270.50" y2="209.80" stroke="#111" stroke-width="0.9" />
<line x1="277.00" y1="213.40" x2="277.00" y2="215.40" stroke="#111" stroke-width="0.9" />
<line x1="279.00" y1="213.40" x2="279.00" y2="215.40" stroke="#111" stroke-width="0.9" />
<line x1="282.00" y1="213.40" x2="282.00" y2="215.40" stroke="#111" stroke-width="0.9" />
<line x1="284.50" y1="213.40" x2="284.50" y2="215.40" stroke="#111" stroke-width="0.9" />
<line x1="305.50" y1="229.00" x2="305.50" y2="231.00" stroke="#111" stroke-width="0.9" />
<polyline points="206.80,166.80 230.10,166.80 230.10,167.40 231.78,167.40 231.78,167.68 233.45,167.68 233.45,167.95 235.12,167.95 235.12,168.22 236.80,168.22 236.80,168.50 238.50,168.50 238.50,168.95 240.20,168.95 240.20,169.40 241.77,169.40 241.77,169.67 243.33,169.67 243.33,169.93 244.90,169.93 244.90,170.20 246.33,170.20 246.33,170.29 247.75,170.29 247.75,170.38 249.18,170.38 249.18,170.46 250.60,170.46 250.60,170.55 252.03,170.55 252.03,170.64 253.45,170.64 253.45,170.72 254.88,170.72 254.88,170.81 256.30,170.81 256.30,170.90 257.65,170.90 257.65,171.20 259.00,171.20 259.00,171.50 260.35,171.50 260.35,171.80 261.70,171.80 261.70,172.10 263.06,172.10 263.06,172.40 264.42,172.40 264.42,172.70 265.78,172.70 265.78,173.00 267.14,173.00 267.14,173.30 268.50,173.30 268.50,173.60 270.15,173.60 270.15,174.05 271.80,174.05 271.80,174.50 273.28,174.50 273.28,174.70 274.76,174.70 274.76,174.90 276.24,174.90 276.24,175.10 277.72,175.10 277.72,175.30 279.20,175.30 279.20,175.50 280.65,175.50 280.65,175.72 282.10,175.72 282.10,175.95 283.55,175.95 283.55,176.18 285.00,176.18 285.00,176.40 293.40,176.40 293.40,178.30 328.80,178.30 328.80,192.30 332.70,192.30" fill="none" stroke="#3a7a3a" stroke-width="1.0" stroke-linejoin="miter" />
<line x1="221.00" y1="165.40" x2="221.00" y2="167.50" stroke="#111" stroke-width="0.95" />
<line x1="226.00" y1="165.40" x2="226.00" y2="167.50" stroke="#111" stroke-width="0.95" />
<line x1="229.00" y1="165.40" x2="229.00" y2="167.50" stroke="#111" stroke-width="0.95" />
<line x1="231.00" y1="166.00" x2="231.00" y2="168.10" stroke="#111" stroke-width="0.95" />
<line x1="233.30" y1="166.28" x2="233.30" y2="168.38" stroke="#111" stroke-width="0.95" />
<line x1="235.60" y1="166.82" x2="235.60" y2="168.92" stroke="#111" stroke-width="0.95" />
<line x1="237.90" y1="167.10" x2="237.90" y2="169.20" stroke="#111" stroke-width="0.95" />
<line x1="240.20" y1="167.55" x2="240.20" y2="169.65" stroke="#111" stroke-width="0.95" />
<line x1="242.50" y1="168.27" x2="242.50" y2="170.37" stroke="#111" stroke-width="0.95" />
<line x1="244.80" y1="168.53" x2="244.80" y2="170.63" stroke="#111" stroke-width="0.95" />
<line x1="247.10" y1="168.89" x2="247.10" y2="170.99" stroke="#111" stroke-width="0.95" />
<line x1="249.40" y1="169.06" x2="249.40" y2="171.16" stroke="#111" stroke-width="0.95" />
<line x1="251.70" y1="169.15" x2="251.70" y2="171.25" stroke="#111" stroke-width="0.95" />
<line x1="254.00" y1="169.32" x2="254.00" y2="171.42" stroke="#111" stroke-width="0.95" />
<line x1="256.30" y1="169.41" x2="256.30" y2="171.51" stroke="#111" stroke-width="0.95" />
<line x1="258.60" y1="169.80" x2="258.60" y2="171.90" stroke="#111" stroke-width="0.95" />
<line x1="260.90" y1="170.40" x2="260.90" y2="172.50" stroke="#111" stroke-width="0.95" />
<line x1="263.20" y1="171.00" x2="263.20" y2="173.10" stroke="#111" stroke-width="0.95" />
<line x1="265.50" y1="171.30" x2="265.50" y2="173.40" stroke="#111" stroke-width="0.95" />
<line x1="267.00" y1="171.60" x2="267.00" y2="173.70" stroke="#111" stroke-width="0.95" />
<line x1="268.20" y1="171.90" x2="268.20" y2="174.00" stroke="#111" stroke-width="0.95" />
<line x1="269.40" y1="172.20" x2="269.40" y2="174.30" stroke="#111" stroke-width="0.95" />
<line x1="270.60" y1="172.65" x2="270.60" y2="174.75" stroke="#111" stroke-width="0.95" />
<line x1="271.80" y1="172.65" x2="271.80" y2="174.75" stroke="#111" stroke-width="0.95" />
<line x1="273.00" y1="173.10" x2="273.00" y2="175.20" stroke="#111" stroke-width="0.95" />
<line x1="274.20" y1="173.30" x2="274.20" y2="175.40" stroke="#111" stroke-width="0.95" />
<line x1="275.40" y1="173.50" x2="275.40" y2="175.60" stroke="#111" stroke-width="0.95" />
<line x1="276.60" y1="173.70" x2="276.60" y2="175.80" stroke="#111" stroke-width="0.95" />
<line x1="277.80" y1="173.90" x2="277.80" y2="176.00" stroke="#111" stroke-width="0.95" />
<line x1="279.00" y1="173.90" x2="279.00" y2="176.00" stroke="#111" stroke-width="0.95" />
<line x1="280.20" y1="174.10" x2="280.20" y2="176.20" stroke="#111" stroke-width="0.95" />
<line x1="281.40" y1="174.32" x2="281.40" y2="176.42" stroke="#111" stroke-width="0.95" />
<line x1="282.60" y1="174.55" x2="282.60" y2="176.65" stroke="#111" stroke-width="0.95" />
<line x1="283.80" y1="174.78" x2="283.80" y2="176.88" stroke="#111" stroke-width="0.95" />
<line x1="285.00" y1="174.78" x2="285.00" y2="176.88" stroke="#111" stroke-width="0.95" />
<line x1="286.20" y1="175.00" x2="286.20" y2="177.10" stroke="#111" stroke-width="0.95" />
<line x1="287.40" y1="175.00" x2="287.40" y2="177.10" stroke="#111" stroke-width="0.95" />
<line x1="288.60" y1="175.00" x2="288.60" y2="177.10" stroke="#111" stroke-width="0.95" />
<line x1="289.80" y1="175.00" x2="289.80" y2="177.10" stroke="#111" stroke-width="0.95" />
<line x1="291.00" y1="175.00" x2="291.00" y2="177.10" stroke="#111" stroke-width="0.95" />
<line x1="294.00" y1="176.90" x2="294.00" y2="179.00" stroke="#111" stroke-width="0.95" />
<line x1="295.20" y1="176.90" x2="295.20" y2="179.00" stroke="#111" stroke-width="0.95" />
<line x1="296.40" y1="176.90" x2="296.40" y2="179.00" stroke="#111" stroke-width="0.95" />
<line x1="297.60" y1="176.90" x2="297.60" y2="179.00" stroke="#111" stroke-width="0.95" />
<line x1="298.80" y1="176.90" x2="298.80" y2="179.00" stroke="#111" stroke-width="0.95" />
<line x1="300.00" y1="176.90" x2="300.00" y2="179.00" stroke="#111" stroke-width="0.95" />
<line x1="301.20" y1="176.90" x2="301.20" y2="179.00" stroke="#111" stroke-width="0.95" />
<line x1="302.40" y1="176.90" x2="302.40" y2="179.00" stroke="#111" stroke-width="0.95" />
<line x1="303.60" y1="176.90" x2="303.60" y2="179.00" stroke="#111" stroke-width="0.95" />
<line x1="304.80" y1="176.90" x2="304.80" y2="179.00" stroke="#111" stroke-width="0.95" />
<line x1="306.00" y1="176.90" x2="306.00" y2="179.00" stroke="#111" stroke-width="0.95" />
<line x1="307.20" y1="176.90" x2="307.20" y2="179.00" stroke="#111" stroke-width="0.95" />
<line x1="308.40" y1="176.90" x2="308.40" y2="179.00" stroke="#111" stroke-width="0.95" />
<line x1="309.60" y1="176.90" x2="309.60" y2="179.00" stroke="#111" stroke-width="0.95" />
<line x1="310.80" y1="176.90" x2="310.80" y2="179.00" stroke="#111" stroke-width="0.95" />
<line x1="312.00" y1="176.90" x2="312.00" y2="179.00" stroke="#111" stroke-width="0.95" />
<line x1="313.20" y1="176.90" x2="313.20" y2="179.00" stroke="#111" stroke-width="0.95" />
<line x1="314.40" y1="176.90" x2="314.40" y2="179.00" stroke="#111" stroke-width="0.95" />
<line x1="315.60" y1="176.90" x2="315.60" y2="179.00" stroke="#111" stroke-width="0.95" />
<line x1="316.80" y1="176.90" x2="316.80" y2="179.00" stroke="#111" stroke-width="0.95" />
<line x1="318.00" y1="176.90" x2="318.00" y2="179.00" stroke="#111" stroke-width="0.95" />
<line x1="319.20" y1="176.90" x2="319.20" y2="179.00" stroke="#111" stroke-width="0.95" />
<line x1="320.40" y1="176.90" x2="320.40" y2="179.00" stroke="#111" stroke-width="0.95" />
<line x1="321.60" y1="176.90" x2="321.60" y2="179.00" stroke="#111" stroke-width="0.95" />
<line x1="322.80" y1="176.90" x2="322.80" y2="179.00" stroke="#111" stroke-width="0.95" />
<line x1="324.00" y1="176.90" x2="324.00" y2="179.00" stroke="#111" stroke-width="0.95" />
<line x1="325.20" y1="176.90" x2="325.20" y2="179.00" stroke="#111" stroke-width="0.95" />
<line x1="326.40" y1="176.90" x2="326.40" y2="179.00" stroke="#111" stroke-width="0.95" />
<line x1="327.60" y1="176.90" x2="327.60" y2="179.00" stroke="#111" stroke-width="0.95" />
<line x1="330.00" y1="190.90" x2="330.00" y2="193.00" stroke="#111" stroke-width="0.95" />
<line x1="331.50" y1="190.90" x2="331.50" y2="193.00" stroke="#111" stroke-width="0.95" />
<polyline points="206.80,166.80 305.00,166.80 305.00,212.70 310.00,212.70" fill="none" stroke="#3a3888" stroke-width="1.1" stroke-linejoin="miter" />
<line x1="270.00" y1="165.70" x2="270.00" y2="167.50" stroke="#111" stroke-width="0.9" />
<line x1="289.00" y1="165.70" x2="289.00" y2="167.50" stroke="#111" stroke-width="0.9" />
<line x1="291.00" y1="165.70" x2="291.00" y2="167.50" stroke="#111" stroke-width="0.9" />
<line x1="296.00" y1="165.70" x2="296.00" y2="167.50" stroke="#111" stroke-width="0.9" />
<line x1="309.00" y1="211.60" x2="309.00" y2="213.40" stroke="#111" stroke-width="0.9" />
<text x="211.90" y="226.00" font-size="6.0" fill="#1a1a2a" stroke="#1a1a2a" stroke-width="0.14" textLength="26.20" lengthAdjust="spacingAndGlyphs">Events/N</text>
<text x="212.60" y="234.20" font-size="6.5" fill="#5e9a48" stroke="#5e9a48" stroke-width="0.14" textLength="20.90" lengthAdjust="spacingAndGlyphs">19/152</text>
<text x="214.90" y="241.50" font-size="6.5" fill="#c0393e" stroke="#c0393e" stroke-width="0.14" textLength="16.20" lengthAdjust="spacingAndGlyphs">12/22</text>
<text x="220.30" y="248.60" font-size="6.5" fill="#2a2a80" stroke="#2a2a80" stroke-width="0.25" textLength="7.80" lengthAdjust="spacingAndGlyphs">1/7</text>
<line x1="236.10" y1="232.60" x2="246.30" y2="232.60" stroke="#2e6a2e" stroke-width="1.2" />
<line x1="241.20" y1="230.60" x2="241.20" y2="233.20" stroke="#222" stroke-width="1.0" />
<line x1="236.10" y1="238.70" x2="246.30" y2="238.70" stroke="#8a2428" stroke-width="1.2" />
<line x1="241.20" y1="236.70" x2="241.20" y2="239.30" stroke="#222" stroke-width="1.0" />
<line x1="236.10" y1="246.20" x2="246.30" y2="246.20" stroke="#28286a" stroke-width="1.2" />
<line x1="241.20" y1="244.00" x2="241.20" y2="246.60" stroke="#222" stroke-width="1.0" />
<text x="252.10" y="234.20" font-size="5.9" fill="#444" stroke="#444" stroke-width="0.14" textLength="24.80" lengthAdjust="spacingAndGlyphs">Low Risk</text>
<text x="252.10" y="241.00" font-size="5.9" fill="#444" stroke="#444" stroke-width="0.14" textLength="67.50" lengthAdjust="spacingAndGlyphs">CCN1 [Q1-Q3]-High Risk</text>
<text x="252.10" y="247.60" font-size="5.9" fill="#444" stroke="#444" stroke-width="0.14" textLength="56.90" lengthAdjust="spacingAndGlyphs">CCN1 [Q4]-High Risk</text>
<text x="214.60" y="258.00" font-size="6.5" fill="#1a1a1a" stroke="#1a1a1a" stroke-width="0.14" textLength="80.40" lengthAdjust="spacingAndGlyphs" xml:space="preserve">Log rank p value  &lt;0.0001</text>
</svg></body></html>
